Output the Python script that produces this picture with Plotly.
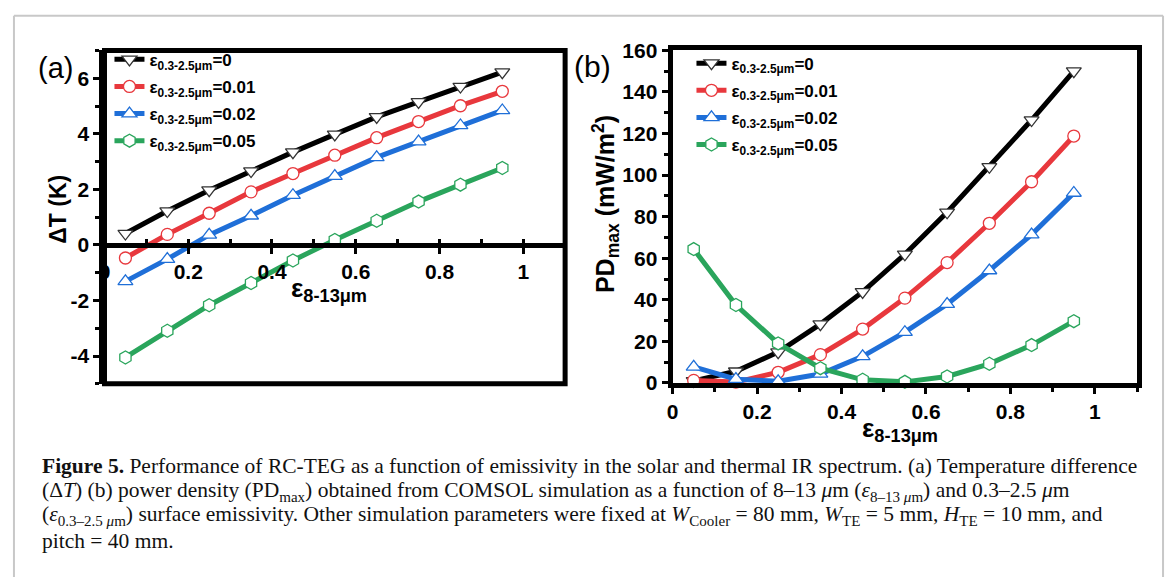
import plotly.graph_objects as go

W, H = 1170, 588
def X(px): return px / W
def Y(py): return 1 - py / H

# ---------------- data ----------------
eps_8_13 = [0.05, 0.15, 0.25, 0.35, 0.45, 0.55, 0.65, 0.75, 0.85, 0.95]
series_names = ["ε<sub>0.3-2.5μm</sub>=0", "ε<sub>0.3-2.5μm</sub>=0.01",
                "ε<sub>0.3-2.5μm</sub>=0.02", "ε<sub>0.3-2.5μm</sub>=0.05"]

dT_0    = [0.41, 1.22, 1.97, 2.66, 3.34, 3.98, 4.61, 5.15, 5.70, 6.22]
dT_001  = [-0.47, 0.38, 1.14, 1.91, 2.57, 3.23, 3.86, 4.44, 5.01, 5.53]
dT_002  = [-1.31, -0.51, 0.36, 1.05, 1.79, 2.48, 3.15, 3.72, 4.30, 4.84]
dT_005  = [-4.05, -3.09, -2.17, -1.37, -0.56, 0.18, 0.87, 1.56, 2.17, 2.77]

PD_0    = [1.0, 5.6, 14.8, 28.3, 43.8, 61.9, 82.1, 104.0, 126.5, 150.0]
PD_001  = [1.2, 0.4, 5.1, 13.6, 25.9, 40.8, 57.9, 76.8, 96.8, 118.8]
PD_002  = [7.7, 1.8, 0.8, 4.3, 12.8, 24.4, 37.9, 54.1, 71.4, 91.4]
PD_005  = [64.4, 37.5, 19.0, 7.1, 1.5, 0.5, 3.1, 9.2, 18.2, 29.7]

x_ticks = [0, 0.2, 0.4, 0.6, 0.8, 1]
x_ticklabels = ["0", "0.2", "0.4", "0.6", "0.8", "1"]
yA_ticks = [-4, -2, 0, 2, 4, 6]
yA_ticklabels = ["-4", "-2", "0", "2", "4", "6"]
yB_ticks = [0, 20, 40, 60, 80, 100, 120, 140, 160]

colors = ["#000000", "#e8383d", "#1f6fd8", "#2aa55c"]
symbols = ["triangle-down", "circle", "triangle-up", "hexagon"]
msizes = [13, 12, 13, 13]

dT_all = [dT_0, dT_001, dT_002, dT_005]
PD_all = [PD_0, PD_001, PD_002, PD_005]

fig = go.Figure()
for i in range(4):
    mk = dict(symbol=symbols[i], size=msizes[i], color="white",
              line=dict(color=colors[i] if i else "#333333", width=1.3))
    fig.add_trace(go.Scatter(x=eps_8_13, y=dT_all[i], mode="lines+markers",
                             name=series_names[i], line=dict(color=colors[i], width=5),
                             marker=mk, xaxis="x", yaxis="y", legend="legend",
                             legendgroup="a%d" % i, cliponaxis=False))
for i in range(4):
    mk = dict(symbol=symbols[i], size=msizes[i], color="white",
              line=dict(color=colors[i] if i else "#333333", width=1.3))
    fig.add_trace(go.Scatter(x=eps_8_13, y=PD_all[i], mode="lines+markers",
                             name=series_names[i], line=dict(color=colors[i], width=5),
                             marker=mk, xaxis="x2", yaxis="y2", legend="legend2",
                             legendgroup="b%d" % i, cliponaxis=False))

tickfont = dict(family="Liberation Sans, Arial", size=21, color="black", weight="bold")
common = dict(showgrid=False, zeroline=False, ticks="outside", ticklen=6, tickwidth=3,
              tickcolor="black", linecolor="black", linewidth=5, showline=True,
              tickfont=tickfont)

yA_range = [-5, 7]
yA_dom = [Y(387), Y(40)]
yB_dom = [Y(386), Y(40)]
x_pos_a = yA_dom[0] + (0 - yA_range[0]) / (yA_range[1] - yA_range[0]) * (yA_dom[1] - yA_dom[0])

legfont = dict(family="Liberation Sans, Arial", size=17, color="black", weight="bold")

fig.update_layout(
    width=W, height=H, margin=dict(l=0, r=0, t=0, b=0),
    paper_bgcolor="white", plot_bgcolor="white",
    font=dict(family="Liberation Sans, Arial", color="black"),
    xaxis=dict(domain=[X(99), X(562)], range=[0, 1.1], anchor="free", position=x_pos_a,
               tickvals=x_ticks, ticktext=x_ticklabels,
               minor=dict(ticks="inside", ticklen=4, tickwidth=3, dtick=0.1, tick0=0),
               **common),
    yaxis=dict(domain=yA_dom, range=yA_range, anchor="x", tickvals=yA_ticks,
               ticktext=yA_ticklabels,
               minor=dict(ticks="outside", ticklen=4, tickwidth=3, dtick=1, tick0=0),
               **common),
    xaxis2=dict(domain=[X(670), X(1137)], range=[0, 1.1], anchor="y2",
                tickvals=x_ticks, ticktext=x_ticklabels, mirror=True,
                minor=dict(ticks="outside", ticklen=4, tickwidth=3, dtick=0.1, tick0=0),
                **common),
    yaxis2=dict(domain=yB_dom, range=[0, 160], anchor="x2", tickvals=yB_ticks, mirror=True,
                minor=dict(ticks="outside", ticklen=4, tickwidth=3, dtick=10, tick0=0),
                **common),
    legend=dict(x=X(104), y=Y(31), xanchor="left", yanchor="top",
                bgcolor="rgba(0,0,0,0)", tracegroupgap=2, font=legfont),
    legend2=dict(x=X(689), y=Y(35), xanchor="left", yanchor="top",
                 bgcolor="rgba(0,0,0,0)", tracegroupgap=2, font=legfont),
    showlegend=True,
)

shapes = [
    dict(type="rect", xref="x domain", yref="y domain", x0=0, x1=1, y0=0, y1=1,
         line=dict(color="black", width=5), layer="above"),
    dict(type="line", xref="paper", yref="paper", x0=X(8), x1=X(8), y0=0, y1=Y(4),
         line=dict(color="#c8c8c8", width=2)),
    dict(type="line", xref="paper", yref="paper", x0=X(8), x1=X(1163), y0=Y(4), y1=Y(4),
         line=dict(color="#c8c8c8", width=2)),
    dict(type="line", xref="paper", yref="paper", x0=X(1163), x1=X(1163), y0=0, y1=Y(4),
         line=dict(color="#c8c8c8", width=2)),
]
fig.update_layout(shapes=shapes)

ann = []
ann.append(dict(text="(a)", x=X(30), y=Y(58), xref="paper", yref="paper", xanchor="left",
                yanchor="middle", showarrow=False,
                font=dict(family="Liberation Sans, Arial", size=29, color="black")))
ann.append(dict(text="(b)", x=X(569), y=Y(57), xref="paper", yref="paper", xanchor="left",
                yanchor="middle", showarrow=False,
                font=dict(family="Liberation Sans, Arial", size=30, color="black")))
ann.append(dict(text="ΔT (K)", x=X(52), y=Y(205), xref="paper", yref="paper",
                textangle=-90, showarrow=False, xanchor="center", yanchor="middle",
                font=dict(family="Liberation Sans, Arial", size=23, color="black", weight="bold")))
ann.append(dict(text="PD<sub>max</sub> (mW/m<sup>2</sup>)", x=X(603), y=Y(200), xref="paper",
                yref="paper", textangle=-90, showarrow=False, xanchor="center", yanchor="middle",
                font=dict(family="Liberation Sans, Arial", size=25, color="black", weight="bold")))
ann.append(dict(text="ε<sub>8-13μm</sub>", x=X(325), y=Y(289), xref="paper", yref="paper",
                showarrow=False, xanchor="center", yanchor="middle",
                font=dict(family="Liberation Sans, Arial", size=26, color="black", weight="bold")))
ann.append(dict(text="ε<sub>8-13μm</sub>", x=X(899), y=Y(435), xref="paper", yref="paper",
                showarrow=False, xanchor="center", yanchor="middle",
                font=dict(family="Liberation Sans, Arial", size=26, color="black", weight="bold")))

cap_lines = [
    "<b>Figure 5.</b> Performance of RC-TEG as a function of emissivity in the solar and thermal IR spectrum. (a) Temperature difference",
    "(Δ<i>T</i>) (b) power density (PD<sub>max</sub>) obtained from COMSOL simulation as a function of 8–13 <i>μ</i>m (<i>ε</i><sub>8–13 <i>μ</i>m</sub>) and 0.3–2.5 <i>μ</i>m",
    "(<i>ε</i><sub>0.3–2.5 <i>μ</i>m</sub>) surface emissivity. Other simulation parameters were fixed at <i>W</i><sub>Cooler</sub> = 80 mm, <i>W</i><sub>TE</sub> = 5 mm, <i>H</i><sub>TE</sub> = 10 mm, and",
    "pitch = 40 mm.",
]
cap_top = [458, 483, 508, 536]
for t, yy in zip(cap_lines, cap_top):
    ann.append(dict(text=t, x=X(34), y=Y(yy), xref="paper", yref="paper", showarrow=False,
                    xanchor="left", yanchor="top",
                    font=dict(family="Liberation Serif, Times New Roman", size=21.5, color="#111111")))
fig.update_layout(annotations=ann)

fig.write_html("out.html")
